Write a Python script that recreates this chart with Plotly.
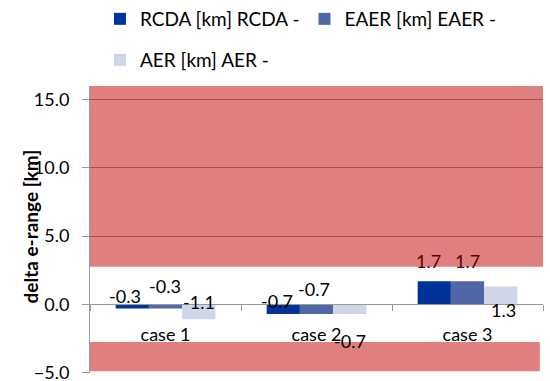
import plotly.graph_objects as go

categories = ["case 1", "case 2", "case 3"]
rcda = [-0.3, -0.7, 1.7]
eaer = [-0.3, -0.7, 1.7]
aer = [-1.1, -0.7, 1.3]
series_names = ["RCDA [km] RCDA -", "EAER [km] EAER -", "AER [km] AER -"]
band_upper = [2.75, 16.0]
band_lower = [-4.9, -2.75]
y_range = [-5.03, 16]
y_title = "delta e-range [km]"

colors = ["#003399", "#4F67A6", "#D0D5E7"]
FONT = "Lato"
FS = 18

W, H = 550, 381
ML, MR, MT, MB = 90, 7, 86, 8
BARGAP = 0.34

# label offsets in px (dx, dy) per series, per category
label_off = [
    [(-7, 12), (-6, 13), (-6, 20)],
    [(-1, 22), (-3, 25), (0, 20)],
    [(0, 17), (0, -27), (3, -23)],
]
label_col = [
    ["#000000", "#000000", "#600000"],
    ["#000000", "#000000", "#600000"],
    ["#000000", "#000000", "#000000"],
]

fig = go.Figure()
all_vals = [rcda, eaer, aer]
for i, (name, vals) in enumerate(zip(series_names, all_vals)):
    fig.add_trace(go.Bar(
        x=categories, y=vals, name=name, marker_color=colors[i],
        marker_line_width=0,
        legend="legend" if i < 2 else "legend2",
    ))

plot_w = W - ML - MR
cat_w = plot_w / len(categories)
bar_w = cat_w * (1 - BARGAP) / 3
annotations = []
for i, vals in enumerate(all_vals):
    for j, v in enumerate(vals):
        dx, dy = label_off[i][j]
        annotations.append(dict(
            x=categories[j], y=v, xref="x", yref="y",
            text=f"{v:.1f}", showarrow=False,
            xshift=(i - 1) * bar_w + dx, yshift=dy,
            font=dict(family=FONT, size=FS, color=label_col[i][j]),
        ))
# y-axis title (overlapping tick labels as in the original)
annotations.append(dict(
    x=0, y=0.5, xref="paper", yref="paper", xanchor="center", yanchor="middle",
    xshift=-60, yshift=3, text=f"<b>{y_title}</b>", textangle=-90,
    showarrow=False, font=dict(family=FONT, size=19, color="#000000"),
))

shapes = [
    dict(type="rect", xref="paper", yref="y", x0=0, x1=1,
         y0=band_upper[0], y1=band_upper[1], fillcolor="#C00000", opacity=0.5,
         line=dict(width=0), layer="above"),
    dict(type="rect", xref="paper", yref="y", x0=0, x1=0.993,
         y0=band_lower[0], y1=band_lower[1], fillcolor="#C00000", opacity=0.5,
         line=dict(width=0), layer="above"),
]

zero_pos = (0 - y_range[0]) / (y_range[1] - y_range[0])

fig.update_layout(
    width=W, height=H,
    margin=dict(l=ML, r=MR, t=MT, b=MB, autoexpand=False),
    paper_bgcolor="white", plot_bgcolor="white",
    barmode="group", bargap=BARGAP, bargroupgap=0,
    font=dict(family=FONT, size=FS, color="#000000"),
    annotations=annotations, shapes=shapes,
    showlegend=True,
    legend=dict(orientation="h", x=0.022, xanchor="left", y=1,
                yref="container", yanchor="top",
                font=dict(family=FONT, size=19), itemwidth=30,
                bgcolor="rgba(0,0,0,0)", tracegroupgap=0),
    legend2=dict(orientation="h", x=0.022, xanchor="left", y=1 - 41 / H,
                 yref="container", yanchor="top",
                 font=dict(family=FONT, size=19), itemwidth=30,
                 bgcolor="rgba(0,0,0,0)"),
    xaxis=dict(type="category", anchor="free", position=zero_pos,
               showline=True, linecolor="#999999", linewidth=1,
               ticks="outside", tickson="boundaries", ticklen=6,
               tickcolor="#999999", showgrid=False, automargin=False,
               ticklabelstandoff=14,
               tickfont=dict(family=FONT, size=FS, color="#000000")),
    yaxis=dict(range=y_range, tickvals=[-5, 0, 5, 10, 15], tickformat=".1f",
               showline=True, linecolor="#999999", linewidth=1,
               ticks="outside", ticklen=7, tickcolor="#999999",
               showgrid=True, gridcolor="#999999", gridwidth=1,
               zeroline=False, ticklabelstandoff=9, automargin=False,
               ticklabeloverflow="allow",
               tickfont=dict(family=FONT, size=FS, color="#000000")),
)

fig.write_html("out.html")
